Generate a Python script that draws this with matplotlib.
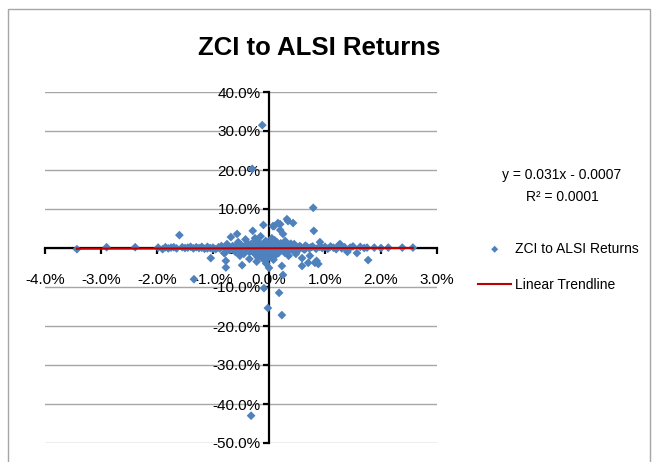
import matplotlib
matplotlib.use("Agg")
import matplotlib.pyplot as plt
from matplotlib.patches import Rectangle
from matplotlib.ticker import FuncFormatter
import numpy as np

plt.rcParams['font.family'] = ['Liberation Sans Narrow', 'Liberation Sans', 'DejaVu Sans']

title = "ZCI to ALSI Returns"
series_label = "ZCI to ALSI Returns"
trend_label = "Linear Trendline"
slope = 0.031
intercept = -0.0007
r2 = 0.0001

# ALSI returns (%), ZCI returns (%)
alsi = [-3.43, -2.9, -2.39, -1.98, -1.9, -1.85, -1.8, -1.75, -1.7, -1.65, -1.6, -1.55, -1.5, -1.45,
        -1.4, -1.35, -1.34, -1.3, -1.25, -1.2, -1.15, -1.1, -1.05, -1.04, -1.0, -0.95, -0.9, -0.85,
        -0.8, -0.79, -0.77, -0.77, -0.75, -0.7, -0.68, -0.65, -0.6, -0.57, -0.55, -0.52, -0.5, -0.48,
        -0.45, -0.42, -0.4, -0.38, -0.35, -0.32, -0.3, -0.3, -0.29, -0.28, -0.25, -0.22, -0.2, -0.18,
        -0.15, -0.14, -0.12, -0.1, -0.1, -0.09, -0.08, -0.06, -0.05, -0.03, -0.02, -0.01, 0.0, 0.02,
        0.03, 0.05, 0.07, 0.08, 0.09, 0.1, 0.12, 0.14, 0.16, 0.18, 0.2, 0.2, 0.22, 0.23, 0.23, 0.25,
        0.25, 0.28, 0.29, 0.3, 0.32, 0.34, 0.35, 0.38, 0.4, 0.43, 0.45, 0.48, 0.5, 0.55, 0.59, 0.59,
        0.62, 0.65, 0.7, 0.73, 0.75, 0.79, 0.8, 0.82, 0.85, 0.88, 0.91, 0.95, 1.0, 1.05, 1.1, 1.15,
        1.2, 1.25, 1.27, 1.3, 1.35, 1.4, 1.45, 1.5, 1.57, 1.63, 1.7, 1.75, 1.77, 1.88, 2.0, 2.13,
        2.38, 2.57,
        -0.45, -0.42, -0.38, -0.36, -0.33, -0.31, -0.27, -0.26, -0.24, -0.21, -0.19, -0.17, -0.16,
        -0.13, -0.11, -0.07, -0.04, -0.02, 0.01, 0.04, 0.06, 0.08, 0.11, 0.13, 0.15, 0.17, 0.19,
        0.21, 0.24, 0.27, 0.31, 0.33, 0.36, 0.39, 0.42, 0.46, 0.52, 0.57, 0.64, 0.68, 0.72, 0.78,
        0.84, 0.9, -0.5, -0.55, -0.6, -0.65, -0.72, -0.8, -0.88, -1.0, -1.1, -1.2, -0.2, -0.1,
        0.05, -0.35, -0.25, 0.1, 0.0, -0.05, -0.15, 0.12]
zci = [-0.3, 0.2, 0.2, 0.1, -0.3, 0.2, -0.1, 0.1, 0.2, -0.1, 3.3, 0.2, 0.0, 0.1,
       0.3, -0.1, -8.0, 0.2, 0.0, 0.1, -0.2, 0.3, 0.0, -2.6, 0.1, -0.3, 0.2, 0.5,
       -1.3, -1.3, -3.3, -5.0, 1.0, -0.5, 2.8, 0.5, -1.0, 3.6, 1.5, -2.0, 0.8, -4.4,
       -1.5, 2.2, -0.6, 1.2, -2.8, -43.0, 20.3, 0.5, 4.4, -1.0, 2.5, -3.5, 1.0, -0.8,
       3.0, -2.0, 31.5, 5.9, 0.3, -10.3, -1.5, 1.8, -4.0, 0.5, -15.4, -2.5, -5.1, 1.0,
       -1.0, 2.5, 5.6, -3.0, 5.6, 0.5, -1.8, 1.5, 6.4, -11.5, 4.6, 6.1, -0.5, -17.2, -4.6, 3.6,
       -6.9, -1.2, 1.8, 0.3, 7.4, 6.9, -2.0, 0.8, -0.4, 6.4, 1.0, -1.5, 0.2, 0.5, -2.6, -4.6,
       -0.3, 0.6, -3.8, -2.0, 0.2, 10.3, 4.4, -3.8, -3.3, -4.1, 1.5, 0.0, 0.3, -0.2, 0.4, 0.1,
       -0.3, 0.8, 1.0, -0.1, 0.2, -1.0, 0.1, 0.4, -1.3, 0.3, 0.0, 0.1, -3.1, 0.1, 0.0, 0.1,
       0.1, 0.1,
       0.3, -0.4, 0.6, -0.2, 0.9, -0.7, 0.4, -1.4, 0.2, -0.5, 1.6, 0.1, -1.1,
       0.7, -0.3, 0.9, -0.6, 0.2, -0.2, 0.6, -0.8, 0.3, -0.4, 0.9, -0.1, -1.3, 0.4,
       1.2, -0.3, 0.6, -0.8, 0.2, -0.5, 1.1, -0.2, 0.3, -0.6, 0.2, -0.4, 0.3, -0.1, 0.4,
       -0.2, 0.3, -0.3, 0.1, 0.4, -0.2, 0.2, 0.1, -0.1, -0.2, -0.1, 0.3, -2.4, -2.9,
       -1.6, -1.0, 1.9, 2.0, 1.2, -0.3, 0.4, 0.1]

x_ticks = [-4, -3, -2, -1, 0, 1, 2, 3]
y_ticks = [-50, -40, -30, -20, -10, 0, 10, 20, 30, 40]

fig = plt.figure(figsize=(6.54, 4.62), dpi=100)
ax = fig.add_axes([45/654, 1-443/462, (437-45)/654, (443-92)/462])

ax.set_xlim(-4, 3)
ax.set_ylim(-50, 40)

ax.set_yticks(y_ticks)
ax.set_xticks(x_ticks)
for yv in y_ticks:
    ax.axhline(yv, color='#a6a6a6', lw=1.0, zorder=0)

ax.spines['left'].set_position(('data', 0))
ax.spines['bottom'].set_position(('data', 0))
ax.spines['right'].set_visible(False)
ax.spines['top'].set_visible(False)
for s in ('left', 'bottom'):
    ax.spines[s].set_linewidth(1.6)
    ax.spines[s].set_color('black')
    ax.spines[s].set_zorder(2)

fmt = FuncFormatter(lambda v, p: f"{v:.1f}%")
ax.xaxis.set_major_formatter(fmt)
ax.yaxis.set_major_formatter(fmt)
ax.tick_params(axis='both', direction='out', length=4, width=1.6, labelsize=11, color='black')
ax.tick_params(axis='y', pad=2)
ax.tick_params(axis='x', pad=14)

sc = ax.scatter(alsi, zci, marker='D', s=20, color='#4f81bd', edgecolors='none', zorder=3,
                label=series_label)
xs = np.array([min(alsi), max(alsi)])
ln, = ax.plot(xs, slope * xs + intercept * 100, color='#c00000', lw=1.5, zorder=4, label=trend_label)

fig.text(562/654, 1-175/462, f"y = {slope}x - {abs(intercept)}", ha='center', va='center', fontsize=10)
fig.text(562/654, 1-197/462, f"R² = {r2}", ha='center', va='center', fontsize=10)

fig.text(319/654, 1-48/462, title, ha='center', va='center', fontsize=18.5, fontweight='bold')

leg = fig.legend(handles=[sc, ln], loc='center left', bbox_to_anchor=(478/654, 1-267/462),
                 frameon=False, fontsize=10, handlelength=2.4, handletextpad=0.25,
                 labelspacing=1.6, borderpad=0, borderaxespad=0, scatterpoints=1, markerscale=0.8)

fig.patches.append(Rectangle((8/654, -0.05), (650-8)/654, 1.05-9/462, transform=fig.transFigure,
                             fill=False, edgecolor='#a6a6a6', lw=1.0))

fig.savefig("out.png", dpi=100)
